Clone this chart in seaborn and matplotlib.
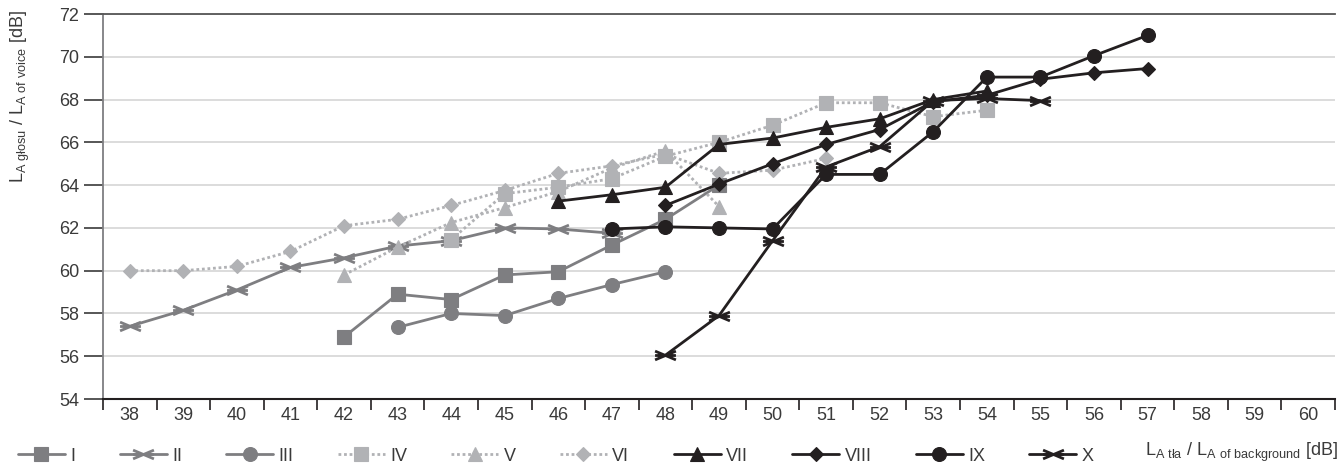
import numpy as np
import pandas as pd
import matplotlib
matplotlib.use('Agg')
import matplotlib.pyplot as plt
from matplotlib.path import Path
import seaborn as sns

# categories on the x axis (L_A of background)
categories = list(range(38, 61))

# series values
x_I = [42, 43, 44, 45, 46, 47, 48, 49]
y_I = [56.9, 58.9, 58.65, 59.8, 59.95, 61.2, 62.4, 64.0]
x_II = [38, 39, 40, 41, 42, 43, 44, 45, 46, 47]
y_II = [57.4, 58.15, 59.1, 60.15, 60.6, 61.15, 61.4, 62.0, 61.95, 61.75]
x_III = [43, 44, 45, 46, 47, 48]
y_III = [57.35, 58.0, 57.9, 58.7, 59.35, 59.95]
x_IV = [44, 45, 46, 47, 48, 49, 50, 51, 52, 53, 54]
y_IV = [61.45, 63.6, 63.9, 64.3, 65.35, 66.0, 66.8, 67.85, 67.85, 67.2, 67.5]
x_V = [42, 43, 44, 45, 46, 47, 48, 49]
y_V = [59.8, 61.1, 62.25, 62.95, 63.7, 64.8, 65.6, 63.0]
x_VI = [38, 39, 40, 41, 42, 43, 44, 45, 46, 47, 48, 49, 50, 51]
y_VI = [60.0, 60.0, 60.2, 60.9, 62.1, 62.4, 63.05, 63.75, 64.55, 64.9, 65.45, 64.55, 64.7, 65.25]
x_VII = [46, 47, 48, 49, 50, 51, 52, 53, 54]
y_VII = [63.25, 63.55, 63.9, 65.9, 66.2, 66.7, 67.1, 68.0, 68.4]
x_VIII = [48, 49, 50, 51, 52, 53, 54, 55, 56, 57]
y_VIII = [63.05, 64.05, 65.0, 65.9, 66.6, 67.9, 68.2, 68.95, 69.25, 69.45]
x_IX = [47, 48, 49, 50, 51, 52, 53, 54, 55, 56, 57]
y_IX = [61.95, 62.05, 62.0, 61.95, 64.5, 64.5, 66.5, 69.05, 69.05, 70.05, 71.0]
x_X = [48, 49, 50, 51, 52, 53, 54, 55]
y_X = [56.05, 57.9, 61.4, 64.85, 65.8, 67.95, 68.05, 67.95]

series_names = ['I', 'II', 'III', 'IV', 'V', 'VI', 'VII', 'VIII', 'IX', 'X']
series_x = [x_I, x_II, x_III, x_IV, x_V, x_VI, x_VII, x_VIII, x_IX, x_X]
series_y = [y_I, y_II, y_III, y_IV, y_V, y_VI, y_VII, y_VIII, y_IX, y_X]

sns.set_style('white')
plt.rcParams['font.family'] = ['Liberation Sans Narrow', 'Liberation Sans', 'DejaVu Sans']
plt.rcParams['mathtext.default'] = 'regular'

dark = '#7e7e81'
light = '#b1b2b5'
black = '#231f20'
txt = '#3a3a3a'

# wide asterisk: horizontal bar with two flat diagonals
star = Path([(-1, 0), (1, 0), (-1, -0.42), (1, 0.42), (-1, 0.42), (1, -0.42)],
            [Path.MOVETO, Path.LINETO] * 3)

styles = {
    'I': dict(color=dark, marker='s', ms=9.5, ls='-'),
    'II': dict(color=dark, marker=star, ms=15, ls='-'),
    'III': dict(color=dark, marker='o', ms=10, ls='-'),
    'IV': dict(color=light, marker='s', ms=9.5, ls=(0, (1, 1))),
    'V': dict(color=light, marker='^', ms=9.5, ls=(0, (1, 1))),
    'VI': dict(color=light, marker='D', ms=6.8, ls=(0, (1, 1))),
    'VII': dict(color=black, marker='^', ms=9.5, ls='-'),
    'VIII': dict(color=black, marker='D', ms=6.8, ls='-'),
    'IX': dict(color=black, marker='o', ms=10, ls='-'),
    'X': dict(color=black, marker=star, ms=15, ls='-'),
}

fig = plt.figure(figsize=(13.42, 4.65), dpi=100)
ax = fig.add_axes([103 / 1342, 1 - 399 / 465, (1335 - 103) / 1342, (399 - 14) / 465])

for name, xs, ys in zip(series_names, series_x, series_y):
    st = styles[name]
    df = pd.DataFrame({'x': xs, 'y': ys})
    is_star = name in ('II', 'X')
    sns.lineplot(data=df, x='x', y='y', ax=ax, sort=False, errorbar=None,
                 color=st['color'], linestyle=st['ls'], lw=2.0,
                 marker=st['marker'], markersize=st['ms'],
                 markeredgecolor=st['color'],
                 markerfacecolor='none' if is_star else st['color'],
                 markeredgewidth=2.0 if is_star else 0.8,
                 label=name)

if ax.get_legend() is not None:
    ax.get_legend().remove()

ax.set_xlim(37.5, 60.5)
ax.set_ylim(54, 72)
ax.set_xlabel('')
ax.set_ylabel('')

# category boundaries carry the tick marks, centres carry the labels
ax.set_xticks(np.arange(37.5, 61.0, 1.0))
ax.set_xticklabels([])
ax.set_xticks(categories, minor=True)
ax.set_xticklabels([str(c) for c in categories], minor=True)
ax.tick_params(axis='x', which='major', bottom=True, length=8, width=1.2,
               color=black, direction='out')
ax.tick_params(axis='x', which='minor', bottom=True, length=0, pad=6,
               labelsize=13, labelcolor=txt)

ax.set_yticks(range(54, 73, 2))
ax.tick_params(axis='y', left=True, length=14, width=1.2, color=txt, direction='out',
               pad=3, labelsize=13, labelcolor=txt)

ax.yaxis.grid(True, color='#d9d9d9', lw=1.3)
ax.xaxis.grid(False)
ax.set_axisbelow(True)

ax.spines['right'].set_visible(False)
ax.spines['top'].set_color('#555555')
ax.spines['top'].set_linewidth(1.3)
ax.spines['left'].set_color(dark)
ax.spines['left'].set_linewidth(1.3)
ax.spines['bottom'].set_color(black)
ax.spines['bottom'].set_linewidth(1.5)

handles, labels = ax.get_legend_handles_labels()
fig.legend(handles, labels, loc='center left', bbox_to_anchor=(18 / 1342, 1 - 456 / 465),
           ncol=10, frameon=False, borderpad=0, borderaxespad=0,
           handlelength=2.6, handletextpad=0.3, columnspacing=2.45,
           fontsize=13, labelcolor=txt)

fig.text(1338 / 1342, 1 - 452 / 465,
         r'$L_{A\ tła}$ / $L_{A\ of\ background}$ [dB]',
         ha='right', va='center', fontsize=13, color=txt)
fig.text(20 / 1342, 1 - 10 / 465,
         r'$L_{A\ głosu}$ / $L_{A\ of\ voice}$ [dB]',
         rotation=90, ha='center', va='top', fontsize=13, color=txt)

fig.savefig('out.png', dpi=100)
